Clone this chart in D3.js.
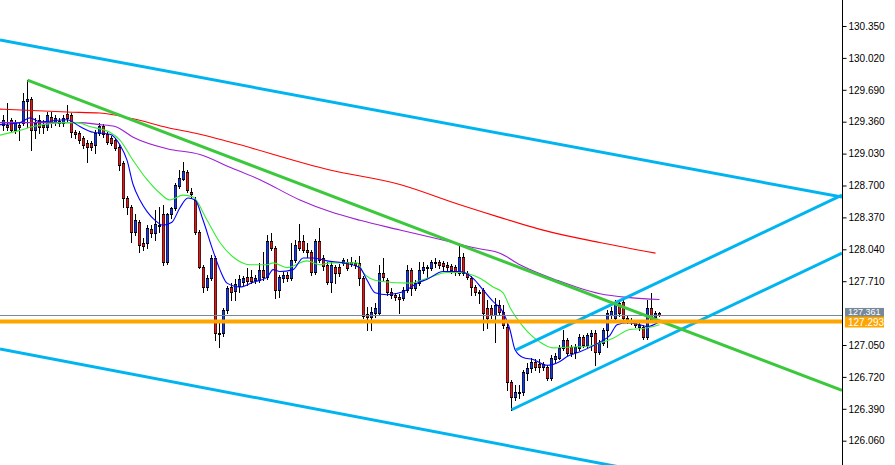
<!DOCTYPE html>
<html><head><meta charset="utf-8">
<script src="https://cdn.jsdelivr.net/npm/d3@7/dist/d3.min.js"></script>
<style>html,body{margin:0;padding:0;background:#fff;overflow:hidden}</style>
</head><body>
<svg id="chart" width="895" height="465"></svg>
<script>
// ---- data ----
const opens = [129.33,129.33,129.38,129.27,129.33,129.35,129.57,129.60,129.27,129.38,
129.33,129.31,129.41,129.36,129.37,129.35,129.44,129.43,129.25,129.24,
129.19,129.14,129.14,129.12,129.24,129.32,129.23,129.19,129.17,129.10,
128.93,128.57,128.48,128.22,128.32,128.11,128.11,128.25,128.21,128.29,
128.40,127.91,128.40,128.47,128.70,128.77,128.84,128.63,128.55,128.22,
127.86,127.65,127.74,127.95,127.17,127.17,127.41,127.65,127.61,127.66,
127.70,127.75,127.75,127.72,127.72,127.83,127.75,128.13,128.05,127.62,
127.74,127.77,127.74,127.93,128.13,128.13,128.03,128.01,127.81,128.13,
127.95,127.88,127.70,127.86,127.86,127.90,127.91,127.91,127.90,127.90,
127.74,127.37,127.34,127.38,127.38,127.80,127.72,127.60,127.57,127.55,
127.54,127.62,127.83,127.64,127.69,127.83,127.86,127.85,127.90,127.91,
127.90,127.88,127.87,127.86,127.80,127.96,127.80,127.74,127.65,127.60,
127.62,127.43,127.43,127.36,127.46,127.39,127.24,126.67,126.51,126.56,
126.56,126.76,126.81,126.87,126.85,126.82,126.82,126.71,126.90,126.92,
127.02,127.10,127.03,126.98,127.02,127.13,127.05,127.14,127.17,126.98,
127.07,127.21,127.36,127.33,127.48,127.50,127.33,127.31,127.29,127.24,
127.24,127.13,127.43,127.34,127.38];
const highs = [129.43,129.55,129.40,129.38,129.35,129.66,129.79,129.62,129.40,129.43,
129.38,129.46,129.46,129.43,129.40,129.43,129.53,129.45,129.27,129.26,
129.21,129.17,129.16,129.27,129.35,129.34,129.25,129.21,129.19,129.12,
128.95,128.59,128.50,128.40,128.34,128.16,128.29,128.29,128.45,128.48,
128.50,128.42,128.48,128.73,128.86,128.94,128.86,128.67,128.58,128.24,
127.88,127.77,127.98,127.97,127.29,127.43,127.66,127.69,127.73,127.77,
127.76,127.85,127.83,127.77,127.90,128.01,128.19,128.21,128.07,127.77,
127.81,127.81,128.11,128.14,128.30,128.19,128.11,128.03,128.15,128.26,
127.98,127.91,127.91,127.88,127.89,127.95,127.94,127.96,127.93,127.97,
127.76,127.44,127.44,127.48,127.88,127.95,127.74,127.64,127.59,127.58,
127.65,127.88,127.85,127.72,127.91,127.91,127.88,127.93,127.95,127.93,
127.92,127.91,127.89,127.88,128.08,128.00,127.82,127.76,127.67,127.62,
127.64,127.52,127.46,127.54,127.52,127.46,127.29,126.69,126.64,126.64,
126.79,126.86,126.92,126.90,126.90,126.87,126.84,126.95,126.97,127.05,
127.21,127.12,127.05,127.06,127.16,127.15,127.17,127.21,127.20,127.10,
127.23,127.41,127.44,127.52,127.52,127.54,127.35,127.33,127.31,127.29,
127.26,127.52,127.59,127.40,127.39];
const lows = [129.27,129.27,129.25,129.24,129.17,129.33,129.30,129.07,129.19,129.24,
129.24,129.27,129.31,129.33,129.32,129.32,129.36,129.20,129.19,129.14,
129.09,128.94,129.07,129.04,129.22,129.20,129.13,129.12,129.07,128.86,
128.48,128.40,128.12,128.19,128.01,128.03,128.05,128.17,128.14,128.22,
127.88,127.89,128.36,128.45,128.67,128.76,128.63,128.57,128.20,127.85,
127.60,127.62,127.72,127.10,127.03,127.14,127.38,127.52,127.52,127.60,
127.67,127.67,127.69,127.69,127.70,127.72,127.73,128.03,127.54,127.55,
127.70,127.71,127.72,127.91,128.03,128.01,127.96,127.77,127.78,127.91,
127.83,127.68,127.60,127.69,127.76,127.88,127.83,127.87,127.85,127.67,
127.33,127.21,127.21,127.34,127.36,127.72,127.57,127.54,127.52,127.38,
127.52,127.60,127.57,127.62,127.67,127.80,127.75,127.83,127.86,127.85,
127.83,127.83,127.80,127.77,127.77,127.77,127.73,127.57,127.57,127.48,
127.21,127.23,127.33,127.08,127.36,127.23,126.58,126.38,126.48,126.50,
126.53,126.69,126.77,126.79,126.77,126.79,126.69,126.69,126.87,126.90,
127.00,126.95,126.94,126.92,127.00,127.03,127.03,127.00,126.84,126.96,
127.05,127.03,127.33,127.31,127.35,127.29,127.28,127.27,127.24,127.21,
127.11,127.11,127.29,127.32,127.35];
const closes = [129.38,129.30,129.27,129.35,129.31,129.57,129.60,129.27,129.35,129.31,
129.30,129.43,129.35,129.40,129.35,129.40,129.40,129.25,129.23,129.17,
129.12,129.10,129.10,129.24,129.32,129.23,129.15,129.14,129.09,128.91,
128.57,128.48,128.22,128.34,128.08,128.07,128.26,128.21,128.30,128.28,
127.91,128.40,128.47,128.71,128.78,128.85,128.65,128.61,128.22,127.86,
127.65,127.74,127.95,127.17,127.16,127.41,127.64,127.60,127.68,127.73,
127.74,127.71,127.71,127.74,127.83,127.75,128.13,128.05,127.62,127.75,
127.77,127.74,127.93,128.08,128.05,128.03,128.01,127.81,128.13,127.93,
127.87,127.70,127.88,127.80,127.80,127.93,127.85,127.89,127.88,127.74,
127.35,127.34,127.39,127.43,127.80,127.75,127.60,127.57,127.55,127.53,
127.62,127.83,127.64,127.69,127.83,127.86,127.85,127.91,127.91,127.88,
127.87,127.86,127.83,127.81,127.96,127.80,127.75,127.65,127.60,127.59,
127.38,127.33,127.36,127.46,127.39,127.26,126.67,126.51,126.56,126.55,
126.77,126.81,126.87,126.82,126.82,126.85,126.71,126.92,126.94,127.02,
127.10,126.97,126.97,127.03,127.13,127.05,127.15,127.17,126.98,127.07,
127.21,127.38,127.40,127.48,127.38,127.33,127.31,127.29,127.26,127.26,
127.13,127.43,127.31,127.38,127.361];

// moving averages: [bar index, price]
const maFast = [[-1,129.33],[4.1,129.35],[6.6,129.40],[9.1,129.36],[15.9,129.38],[19.1,129.31],[22.4,129.25],[26.6,129.23],
[29.1,129.12],[30.9,128.96],[32.4,128.71],[34.1,128.55],[35.9,128.43],[37.9,128.34],[39.9,128.29],[42.1,128.32],
[44.1,128.47],[46.1,128.57],[47.9,128.55],[49.9,128.34],[52.1,128.06],[54.1,127.83],[55.9,127.69],[59.1,127.65],
[62.4,127.70],[65.9,127.75],[67.4,127.83],[69.1,127.81],[72.4,127.83],[74.9,127.95],[77.4,127.95],[80.9,127.92],
[84.9,127.90],[89.1,127.85],[90.9,127.72],[92.9,127.59],[95.9,127.57],[99.9,127.60],[103.4,127.69],[105.9,127.73],
[109.9,127.81],[114.1,127.81],[117.4,127.74],[119.9,127.62],[122.4,127.50],[124.9,127.39],[126.6,127.21],[127.9,127.00],
[129.9,126.92],[132.4,126.90],[135.9,126.84],[139.1,126.88],[140.9,126.93],[144.1,126.98],[149.1,127.08],[151.6,127.15],
[153.4,127.26],[155.9,127.28],[159.1,127.26],[160.9,127.24],[164,127.29]];
const maMid = [[-1,129.22],[4.1,129.27],[7.4,129.31],[15.9,129.35],[18.4,129.35],[21.6,129.31],[26.6,129.25],[29.1,129.17],
[32.4,128.96],[35.9,128.76],[39.1,128.62],[41.6,128.55],[44.9,128.60],[47.4,128.58],[50.9,128.34],[54.1,128.11],
[57.4,127.96],[61.6,127.88],[65.9,127.88],[67.4,127.90],[70.9,127.85],[75.9,127.92],[79.1,127.88],[81.6,127.90],
[88.4,127.90],[89.9,127.80],[91.6,127.74],[94.1,127.71],[101.6,127.69],[105.9,127.74],[110.9,127.80],[114.1,127.80],
[119.1,127.74],[122.4,127.65],[124.9,127.59],[126.6,127.44],[129.9,127.24],[134.1,127.08],[137.4,127.02],[142.4,127.03],
[146.6,127.04],[149.1,127.07],[152.4,127.12],[156.6,127.21],[159.9,127.22],[164,127.26]];
const maSlow = [[-1,129.35],[18.4,129.35],[24.1,129.33],[27.9,129.31],[32.4,129.20],[40.9,129.08],[49.1,129.02],[56.6,128.89],
[64.1,128.76],[74.1,128.55],[81.6,128.43],[89.1,128.34],[99.1,128.24],[112.4,128.11],[118.4,128.05],[124.1,128.00],
[129.1,127.88],[138.4,127.72],[149.1,127.58],[156.6,127.54],[164,127.52]];
const maLong = [[-1,129.49],[15.9,129.46],[24.1,129.45],[32.4,129.39],[40.9,129.30],[49.1,129.23],[56.6,129.15],
[81.6,128.86],[99.1,128.71],[114.1,128.50],[124.1,128.37],[136.6,128.22],[149.1,128.11],[163,128.00]];

// trend lines: [bar index, price] pairs
const channelUpper = [[-0.875,130.205],[209.625,128.58]];
const channelLower = [[-0.875,127.01],[209.625,125.35]];
const greenTrend   = [[6,129.79],[209.625,126.58]];
const riseLower    = [[127,126.38],[209.625,128.00]];
const riseUpper    = [[128.125,127.00],[209.625,128.60]];

const bidPrice = 127.361;
const levelPrice = 127.293;
const priceTicks = [130.350,130.020,129.690,129.360,129.030,128.700,128.370,128.040,127.710,127.050,126.720,126.390,126.060];

// ---- drawing ----
const W = 895, H = 465, plotW = 842;
const svg = d3.select("#chart");
const x = d3.scaleLinear().domain([0, 1]).range([3.5, 7.5]);
const y = d3.scaleLinear().domain([126.06, 130.35]).range([440.7, 26]);

svg.append("rect").attr("width", W).attr("height", H).attr("fill", "#fff");
svg.append("clipPath").attr("id", "plot").append("rect").attr("x", 0).attr("y", 0).attr("width", plotW).attr("height", H);
const g = svg.append("g").attr("clip-path", "url(#plot)");

// candles
const bars = d3.range(opens.length).map(i => ({i, o: opens[i], h: highs[i], l: lows[i], c: closes[i]}));
const cg = g.append("g");
bars.forEach(b => {
  const cx = x(b.i);
  cg.append("line").attr("x1", cx).attr("x2", cx).attr("y1", Math.round(y(b.h))).attr("y2", Math.round(y(b.l)) + 1)
    .attr("stroke", "#000").attr("stroke-width", 1);
  const top = Math.round(y(Math.max(b.o, b.c)));
  const bot = Math.round(y(Math.min(b.o, b.c)));
  const hgt = Math.max(1, bot - top);
  cg.append("rect").attr("x", cx - 1.5).attr("y", top).attr("width", 3).attr("height", hgt + 1).attr("fill", "#000");
  if (hgt > 1) {
    cg.append("rect").attr("x", cx - 1).attr("y", top + 1).attr("width", 2).attr("height", hgt - 1)
      .attr("fill", b.c >= b.o ? "#1f3bd6" : "#d21f1f");
  }
});

// moving averages
const maLine = d3.line().x(d => x(d[0])).y(d => y(d[1])).curve(d3.curveMonotoneX);
[[maLong, "#ff0000"], [maSlow, "#9b1fd6"], [maMid, "#33ee33"], [maFast, "#0000ff"]].forEach(([data, col]) => {
  g.append("path").attr("d", maLine(data)).attr("fill", "none").attr("stroke", col).attr("stroke-width", 1.1);
});

// horizontal price lines
g.append("line").attr("x1", 0).attr("x2", plotW).attr("y1", Math.round(y(bidPrice)) + 0.5).attr("y2", Math.round(y(bidPrice)) + 0.5)
  .attr("stroke", "#778899").attr("stroke-width", 1);

// trend lines
const tl = d3.line().x(d => x(d[0])).y(d => y(d[1]));
[[channelUpper, "#00b4f0"], [channelLower, "#00b4f0"], [riseLower, "#00b4f0"], [riseUpper, "#00b4f0"], [greenTrend, "#3cc83c"]]
  .forEach(([data, col]) => {
    g.append("path").attr("d", tl(data)).attr("fill", "none").attr("stroke", col).attr("stroke-width", 3);
  });

g.append("line").attr("x1", 0).attr("x2", plotW).attr("y1", y(levelPrice)).attr("y2", y(levelPrice))
  .attr("stroke", "#ffa500").attr("stroke-width", 4);

// price axis
const axis = d3.axisRight(y).tickValues(priceTicks).tickFormat(d3.format(".3f")).tickSize(4).tickPadding(2);
const ag = svg.append("g").attr("transform", "translate(842.5,0)").call(axis);
ag.select(".domain").remove();
ag.selectAll(".tick line").attr("stroke", "#000");
ag.selectAll(".tick text").attr("fill", "#000").style("font-family", "'Liberation Sans', Arial, sans-serif").style("font-size", "10px");
svg.append("line").attr("x1", 842.5).attr("x2", 842.5).attr("y1", 0).attr("y2", H).attr("stroke", "#000");

// price tags: the grey bid tag sits partly under the orange level tag, as in the reference
const fmt = d3.format(".3f");
const bidY = y(bidPrice), lvlY = y(levelPrice);
svg.append("rect").attr("x", 845).attr("y", bidY - 7).attr("width", 39).attr("height", 12).attr("fill", "#778899");
svg.append("text").attr("x", 848).attr("y", bidY - 3.5).attr("dy", "0.35em").attr("fill", "#fff")
  .style("font-family", "'Liberation Sans', Arial, sans-serif").style("font-size", "9px").text(fmt(bidPrice));
svg.append("rect").attr("x", 845).attr("y", lvlY - 5).attr("width", 39).attr("height", 11).attr("fill", "#ffa500");
svg.append("text").attr("x", 848).attr("y", lvlY + 1).attr("dy", "0.35em").attr("fill", "#fff")
  .style("font-family", "'Liberation Sans', Arial, sans-serif").style("font-size", "10px").text(fmt(levelPrice));
</script>
</body></html>
